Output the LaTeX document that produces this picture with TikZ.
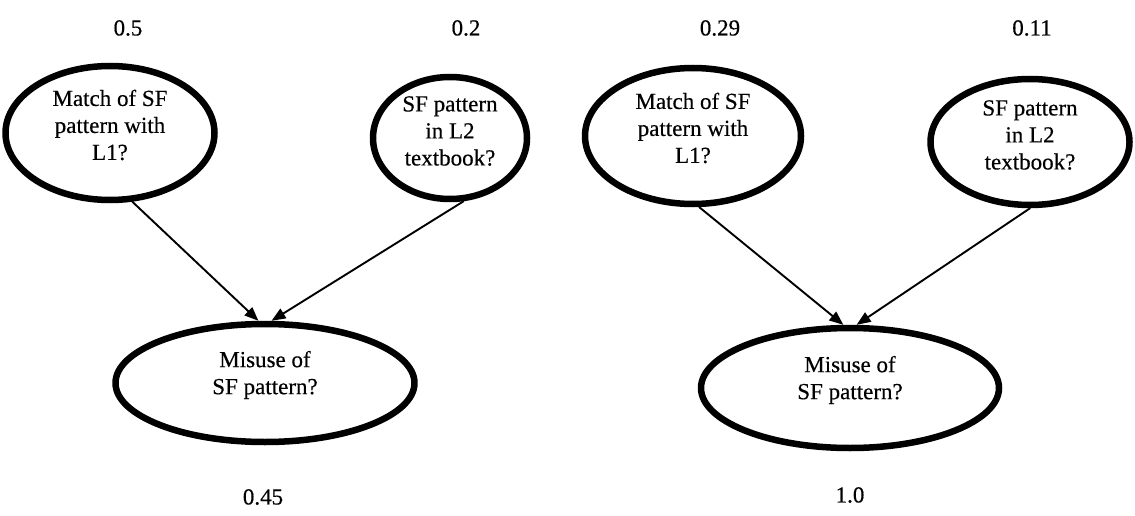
\documentclass[tikz,border=0pt]{standalone}
\usepackage{fontspec}
\setmainfont{Liberation Serif}[FakeBold=0.4]
\usetikzlibrary{shapes.geometric,arrows.meta}
\begin{document}
\begin{tikzpicture}[x=1pt,y=-1pt,line join=round,line cap=round]
        \tikzset{
                bong/.style={draw,ellipse,line width=6.5pt,inner sep=0pt},
                chu/.style={align=center,font=\fontsize{23}{27}\selectfont,inner sep=0pt},
                so/.style={font=\fontsize{23}{27}\selectfont,inner sep=0pt},
                mui/.style={-{Triangle[length=14pt,width=11pt]},line width=1.9pt}
        }
        \useasboundingbox (0,0) rectangle (1135,516);
        \path
        (110,133) coordinate (A)
        (450,138) coordinate (B)
        (265,383) coordinate (C)
        (693,136) coordinate (D)
        (1030,142) coordinate (E)
        (850,388) coordinate (F)
        ;
        % left network
        \node[bong,minimum width=209pt,minimum height=134pt] (mL) at (A) {};
        \node[bong,minimum width=154pt,minimum height=122pt] (sfL) at (B) {};
        \node[bong,minimum width=299pt,minimum height=118pt] (misL) at (C) {};
        \node[chu] (mLt) at ([yshift=8pt]A) {Match of SF\\pattern with\\L1?};
        \node[chu] (sfLt) at ([yshift=7pt]B) {SF pattern\\in L2\\textbook?};
        \node[chu] (misLt) at ([yshift=8pt]C) {Misuse of\\SF pattern?};
        \node[so] (pA) at (128,28) {0.5};
        \node[so] (pB) at (466,28) {0.2};
        \node[so] (pC) at (263,497) {0.45};
        \draw[mui] (mL.-72) -- (misL.96);
        \draw[mui] (sfL.-78) -- (misL.84);
        % right network
        \node[bong,minimum width=216pt,minimum height=136pt] (mR) at (D) {};
        \node[bong,minimum width=199pt,minimum height=126pt] (sfR) at (E) {};
        \node[bong,minimum width=298pt,minimum height=120pt] (misR) at (F) {};
        \node[chu] (mRt) at ([yshift=8pt]D) {Match of SF\\pattern with\\L1?};
        \node[chu] (sfRt) at ([yshift=7pt]E) {SF pattern\\in L2\\textbook?};
        \node[chu] (misRt) at ([yshift=8pt]F) {Misuse of\\SF pattern?};
        \node[so] (pD) at (720,28) {0.29};
        \node[so] (pE) at (1032,28) {0.11};
        \node[so] (pF) at (850,495) {1.0};
        \draw[mui] (mR.-85) -- (misR.96);
        \draw[mui] (sfR.-90) -- (misR.84);
\end{tikzpicture}
\end{document}
